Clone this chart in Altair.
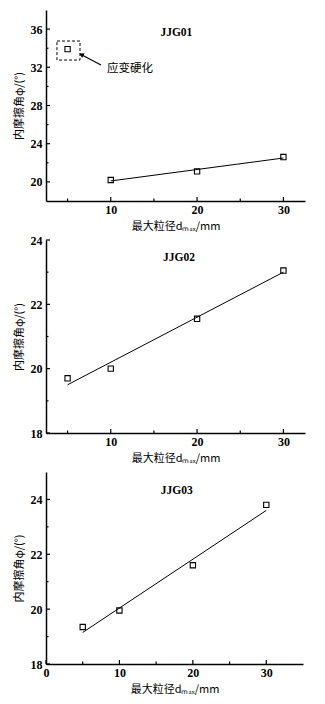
import altair as alt
import pandas as pd

# ---------------- data ----------------
dmax = [5, 10, 20, 30]
phi_jjg01 = [33.9, 20.2, 21.1, 22.6]
phi_jjg02 = [19.7, 20.0, 21.55, 23.05]
phi_jjg03 = [19.35, 19.95, 21.6, 23.8]

fit01_x = [10, 30]
fit01_y = [20.1, 22.5]
fit02_x = [5, 30]
fit02_y = [19.5, 23.0]
fit03_x = [5, 30]
fit03_y = [19.15, 23.6]

panel_names = ["JJG01", "JJG02", "JJG03"]

# strain-hardening annotation (panel JJG01)
box_x = [3.77, 6.44]
box_y = [32.76, 34.75]
arrow_x = [8.87, 6.67]
arrow_y = [32.24, 33.29]
note_text = "应变硬化"

XTITLE = "最大粒径dₘₐₓ/mm"
YTITLE = "内摩擦角φ/(°)"

SERIF = "Liberation Serif"
CJK = "Noto Sans CJK SC"


def axis_x(values):
    return alt.Axis(values=values, title=XTITLE, grid=False, ticks=False,
                    domainColor="black", domainWidth=1.5,
                    labelFont=SERIF, labelFontWeight="bold", labelFontSize=12,
                    labelColor="black", labelPadding=3, labelFlush=False,
                    titleFont=CJK, titleFontSize=11, titleFontWeight="normal",
                    titleColor="black", titlePadding=5)


def axis_y(values):
    return alt.Axis(values=values, title=YTITLE, grid=False, ticks=False,
                    domainColor="black", domainWidth=1.5,
                    labelFont=SERIF, labelFontWeight="bold", labelFontSize=12,
                    labelColor="black", labelPadding=4, labelFlush=False,
                    titleFont=CJK, titleFontSize=11, titleFontWeight="normal",
                    titleColor="black", titlePadding=6)


def panel(name, xs, ys, fx, fy, xdom, ydom, xmajor, xminor, ymajor, yminor,
          w, h, label_xy, extra=None):
    xs_ = alt.Scale(domain=xdom, nice=False, zero=False)
    ys_ = alt.Scale(domain=ydom, nice=False, zero=False)
    ax = axis_x(xmajor)
    ay = axis_y(ymajor)

    def X(f="x"):
        return alt.X(f"{f}:Q", scale=xs_, axis=ax)

    def Y(f="y"):
        return alt.Y(f"{f}:Q", scale=ys_, axis=ay)

    pts = alt.Chart(pd.DataFrame({"x": xs, "y": ys})).mark_point(
        shape="square", filled=False, size=28, stroke="black", strokeWidth=1.1,
        opacity=1).encode(x=X(), y=Y())
    fit = alt.Chart(pd.DataFrame({"x": fx, "y": fy})).mark_line(
        color="black", strokeWidth=1).encode(x=X(), y=Y())
    lab = alt.Chart(pd.DataFrame({"x": [label_xy[0]], "y": [label_xy[1]], "t": [name]})).mark_text(
        font=SERIF, fontWeight="bold", fontSize=11.5, color="black").encode(
        x=X(), y=Y(), text="t:N")

    # inward ticks
    xt_major = alt.Chart(pd.DataFrame({"x": xmajor})).mark_rule(color="black", strokeWidth=1.2).encode(
        x=X(), y=alt.value(h), y2=alt.value(h - 4))
    xt_minor = alt.Chart(pd.DataFrame({"x": xminor})).mark_rule(color="black", strokeWidth=1.2).encode(
        x=X(), y=alt.value(h), y2=alt.value(h - 2.5))
    yt_major = alt.Chart(pd.DataFrame({"y": ymajor})).mark_rule(color="black", strokeWidth=1.2).encode(
        y=Y(), x=alt.value(0), x2=alt.value(4))
    yt_minor = alt.Chart(pd.DataFrame({"y": yminor})).mark_rule(color="black", strokeWidth=1.2).encode(
        y=Y(), x=alt.value(0), x2=alt.value(2.5))

    layers = [fit, pts, lab, xt_major, xt_minor, yt_major, yt_minor]
    if extra:
        layers += extra(X, Y)
    return alt.layer(*layers).properties(width=w, height=h)


def annotation(X, Y):
    box = alt.Chart(pd.DataFrame({"x": [box_x[0]], "x2": [box_x[1]],
                                  "y": [box_y[0]], "y2": [box_y[1]]})).mark_rect(
        fillOpacity=0, stroke="black", strokeWidth=1, strokeDash=[3, 2]).encode(
        x=X(), x2="x2:Q", y=Y(), y2="y2:Q")
    arr = alt.Chart(pd.DataFrame({"x": [arrow_x[0]], "x2": [arrow_x[1]],
                                  "y": [arrow_y[0]], "y2": [arrow_y[1]]})).mark_rule(
        color="black", strokeWidth=1.2).encode(x=X(), x2="x2:Q", y=Y(), y2="y2:Q")
    head = alt.Chart(pd.DataFrame({"x": [arrow_x[1]], "y": [arrow_y[1]]})).mark_point(
        shape="triangle", filled=True, color="black", size=28, angle=298, opacity=1).encode(
        x=X(), y=Y())
    note = alt.Chart(pd.DataFrame({"x": [9.57], "y": [31.79], "t": [note_text]})).mark_text(
        font=CJK, fontSize=11.5, color="black", align="left", baseline="middle").encode(
        x=X(), y=Y(), text="t:N")
    return [box, arr, head, note]


p1 = panel(panel_names[0], dmax, phi_jjg01, fit01_x, fit01_y,
           [2.5, 32.5], [18, 38], [10, 20, 30], [5, 15, 25],
           [20, 24, 28, 32, 36], [22, 26, 30, 34],
           259, 191, (17.6, 35.6), extra=annotation)
p2 = panel(panel_names[1], dmax, phi_jjg02, fit02_x, fit02_y,
           [2.5, 32.5], [18, 24], [10, 20, 30], [5, 15, 25],
           [18, 20, 22, 24], [19, 21, 23],
           259, 193, (17.9, 23.45))
p3 = panel(panel_names[2], dmax, phi_jjg03, fit03_x, fit03_y,
           [0, 35], [18, 25], [0, 10, 20, 30], [5, 15, 25],
           [18, 20, 22, 24], [19, 21, 23],
           257, 192, (17.8, 24.3))

top_pair = alt.vconcat(p1, p2, spacing=3)
chart = alt.vconcat(top_pair, p3, spacing=9).properties(
    padding={"left": 13, "top": 10, "right": 5, "bottom": 5},
    background="white"
).configure_view(stroke=None)

chart.save("out.html", embed_options={"renderer": "svg", "actions": False})
